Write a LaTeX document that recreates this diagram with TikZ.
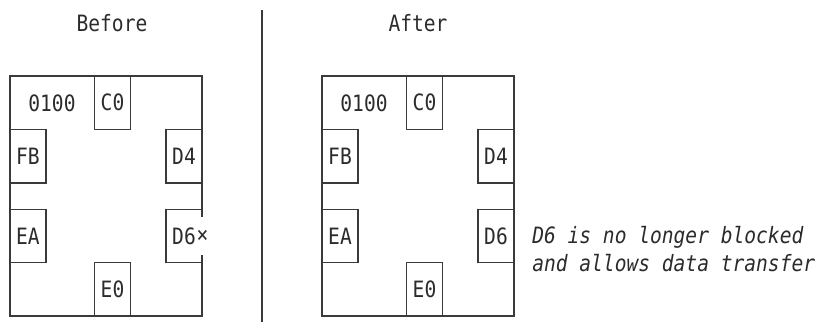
\documentclass[tikz,border=0pt]{standalone}
\usepackage{fontspec}
\setmonofont{DejaVu Sans Mono}[FakeStretch=0.87]
\usetikzlibrary{positioning}
\definecolor{dInk}{HTML}{2B2B2B}
\definecolor{dLine}{HTML}{3A3A3A}

\begin{document}
\begin{tikzpicture}[x=0.025cm, y=-0.025cm,
  lbl/.style={font=\ttfamily\fontsize{16}{20}\selectfont, text=dInk, inner sep=0pt},
  frame/.style={draw=dLine, line width=0.8pt, minimum width=4.8cm, minimum height=6cm, inner sep=0pt},
  pin/.style={lbl, draw=dLine, line width=0.8pt, minimum width=0.9cm, minimum height=1.3375cm}]
  \useasboundingbox (0,0) rectangle (820,322);
  % before
  \node[lbl] (bt) at (112,23) {Before};
  \node[frame] (bf) at (106,196) {};
  \node[lbl] (bn) at (52,103) {0100};
  \node[pin] (bc0) at (112.5,102.75) {C0};
  \node[pin] (bfb) at (28,156.25) {FB};
  \node[pin] (bd4) at (184,156.25) {D4};
  \node[pin] (bea) at (28,236) {EA};
  \node[pin] (bd6) at (184,236) {D6};
  \node[pin] (be0) at (112.5,289.25) {E0};
  \node[lbl, fill=white, minimum width=0.3cm, minimum height=0.95cm] (bx) at (bd6.east) {×};
  % divider
  \coordinate (dt) at (262,10);
  \coordinate (db) at (262,322);
  \draw[dLine, line width=0.8pt] (dt) -- (db);
  % after
  \node[lbl] (at) at (418,23) {After};
  \node[frame] (af) at (418,196) {};
  \node[lbl] (an) at (364,103) {0100};
  \node[pin] (ac0) at (424.5,102.75) {C0};
  \node[pin] (afb) at (340,156.25) {FB};
  \node[pin] (ad4) at (496,156.25) {D4};
  \node[pin] (aea) at (340,236) {EA};
  \node[pin] (ad6) at (496,236) {D6};
  \node[pin] (ae0) at (424.5,289.25) {E0};
  \node[lbl, font=\ttfamily\itshape\fontsize{16}{19.9}\selectfont, align=left, anchor=west]
    (note) at (532,249) {D6 is no longer blocked\\and allows data transfer};
\end{tikzpicture}
\end{document}
